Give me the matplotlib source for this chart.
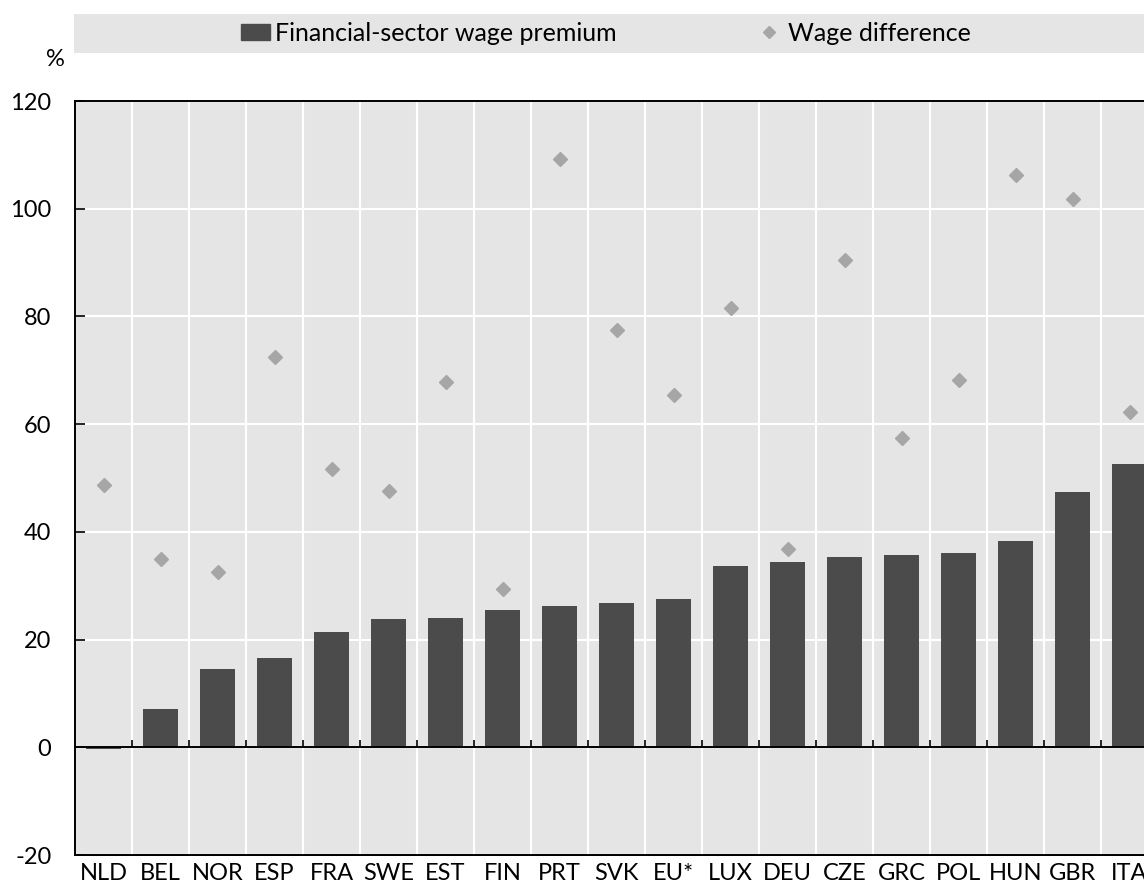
import matplotlib.pyplot as plt
import numpy as np
from matplotlib.patches import Rectangle
from matplotlib.lines import Line2D

countries = ["NLD", "BEL", "NOR", "ESP", "FRA", "SWE", "EST", "FIN", "PRT", "SVK",
             "EU*", "LUX", "DEU", "CZE", "GRC", "POL", "HUN", "GBR", "ITA"]
wage_premium = [-0.4, 7.1, 14.5, 16.5, 21.4, 23.8, 24.0, 25.4, 26.2, 26.7,
                27.6, 33.6, 34.4, 35.3, 35.7, 36.0, 38.3, 47.4, 52.6]
wage_difference = [48.7, 34.9, 32.5, 72.4, 51.6, 47.5, 67.8, 29.3, 109.2, 77.4,
                   65.4, 81.5, 36.8, 90.4, 57.4, 68.2, 106.2, 101.8, 62.2]

plt.rcParams['font.family'] = ['Lato', 'DejaVu Sans']
plt.rcParams['axes.unicode_minus'] = False
FS = 17
W, H = 1144, 891
fig = plt.figure(figsize=(W / 100, H / 100), dpi=100)

# plot area runs off the right edge, like the source
ax = fig.add_axes([75 / W, (H - 855) / H, (1158 - 75) / W, (855 - 101) / H])
ax.set_facecolor("#e5e5e5")

x = np.arange(len(countries))
ax.bar(x, wage_premium, width=0.63, color="#4b4b4b", zorder=2)
ax.plot(x, wage_difference, linestyle="none", marker="D", markersize=7,
        color="#a6a6a6", zorder=3)

ax.set_xlim(-0.5, len(countries) - 0.5)
ax.set_ylim(-20, 120)
ax.set_yticks(np.arange(-20, 121, 20))
ax.tick_params(axis="y", direction="in", length=7, width=1.2, pad=17, labelsize=FS)

# category boundaries: white grid + small ticks on the zero line
bounds = np.arange(-0.5, len(countries), 1.0)
ax.set_xticks(bounds)
ax.set_xticklabels([])
ax.tick_params(axis="x", length=0)
ax.grid(True, color="white", linewidth=1.5)
ax.set_axisbelow(True)
ax.axhline(0, color="black", linewidth=1.4, zorder=4)
ax.vlines(bounds[1:], 0, 1.3, color="black", linewidth=1.2, zorder=4)
for s in ["left", "top", "bottom"]:
    ax.spines[s].set_linewidth(1.4)
ax.spines["right"].set_visible(False)

sec = ax.secondary_xaxis(0.0)
sec.set_xticks(x)
sec.set_xticklabels(countries, fontsize=FS)
sec.tick_params(length=0, pad=6)
sec.spines["bottom"].set_linewidth(1.4)

fig.text(55 / W, 1 - 60 / H, "%", fontsize=FS, ha="center", va="center")

# legend band
fig.patches.append(Rectangle((74 / W, 1 - 53 / H), (W - 74) / W, 39 / H,
                             transform=fig.transFigure, facecolor="#e5e5e5",
                             edgecolor="none", zorder=0))
handles = [Rectangle((0, 0), 1, 1, color="#4b4b4b"),
           Line2D([], [], linestyle="none", marker="D", markersize=6, color="#a6a6a6")]
fig.legend(handles, ["Financial-sector wage premium", "Wage difference"],
           loc="center left", bbox_to_anchor=(241 / W, 1 - 33.5 / H), ncol=2,
           frameon=False, fontsize=18, columnspacing=5.5, handlelength=1.16,
           handleheight=0.64, handletextpad=0.2, borderpad=0, borderaxespad=0)

fig.savefig("out.png", dpi=100)
